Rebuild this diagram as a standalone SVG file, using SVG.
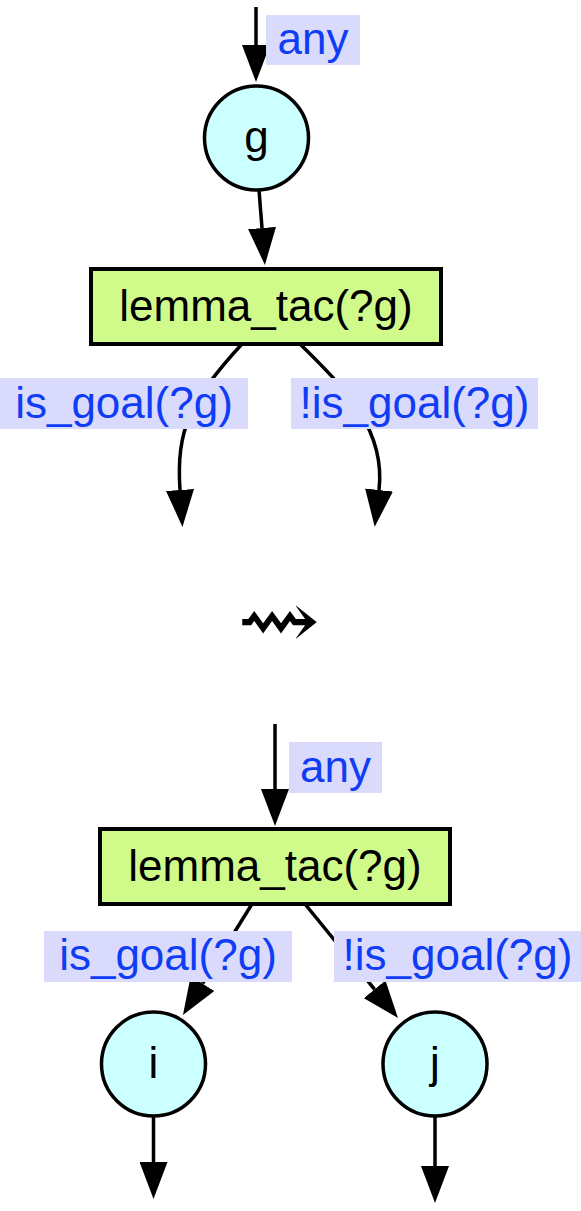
<svg xmlns="http://www.w3.org/2000/svg" width="581" height="1211" viewBox="0 0 581 1211">
<style>
.lbl-bg{fill:#dadafc;stroke:none}
.lbl{font-family:"Liberation Sans",Arial,sans-serif;font-size:44px;fill:#0f3cf5;text-anchor:middle}
.txt{font-family:"Liberation Sans",Arial,sans-serif;font-size:44px;fill:#000;text-anchor:middle}
.circ{fill:#ccffff;stroke:#000;stroke-width:3.5}
.box{fill:#d0fb8a;stroke:#000;stroke-width:4}
.edge{fill:none;stroke:#000;stroke-width:3.5;marker-end:url(#ah)}
</style>
<defs>
<marker id="ah" viewBox="0 0 37 28" refX="0" refY="14" markerWidth="37" markerHeight="28" markerUnits="userSpaceOnUse" orient="auto">
<path d="M0,0 L37,14 L0,28 Z" fill="#000"/>
</marker>
</defs>
<g id="connectors">
<path class="edge" d="M256,7 L256,45"/>
<path class="edge" d="M259,190 L262,228"/>
<path class="edge" d="M242,344 C190,400 176,430 180,490"/>
<path class="edge" d="M300,344 C345,388 386,430 379,490"/>
<path class="edge" d="M275,724 L275,789"/>
<path class="edge" d="M252,904 L202.5,983.6"/>
<path class="edge" d="M305,904 L374.6,989.3"/>
<path class="edge" d="M153.5,1117 L153.5,1162"/>
<path class="edge" d="M435,1117 L435,1166"/>
</g>
<g id="label-any-top">
<rect class="lbl-bg" x="266" y="15" width="94" height="50"/>
<text class="lbl" x="313" y="54">any</text>
</g>
<g id="node-g">
<circle class="circ" cx="256.5" cy="138" r="52"/>
<text class="txt" x="256.5" y="152">g</text>
</g>
<g id="node-lemma1">
<rect class="box" x="91" y="269" width="350" height="75"/>
<text class="txt" x="266" y="320.5">lemma_tac(?g)</text>
</g>
<g id="label-isgoal-1">
<rect class="lbl-bg" x="0" y="378" width="248" height="51"/>
<text class="lbl" x="124" y="417.5">is_goal(?g)</text>
</g>
<g id="label-notisgoal-1">
<rect class="lbl-bg" x="291" y="378" width="247" height="51"/>
<text class="lbl" x="414.5" y="417.5">!is_goal(?g)</text>
</g>
<g id="leadsto">
<text transform="translate(278.5,648) scale(1.25,1)" x="0" y="0" style="font-family:'DejaVu Serif',serif;font-size:80px;fill:#000;text-anchor:middle">⇝</text>
</g>
<g id="label-any-bottom">
<rect class="lbl-bg" x="289" y="742" width="93" height="51"/>
<text class="lbl" x="335.5" y="781.5">any</text>
</g>
<g id="node-lemma2">
<rect class="box" x="100" y="829" width="350" height="75"/>
<text class="txt" x="275" y="880.5">lemma_tac(?g)</text>
</g>
<g id="label-isgoal-2">
<rect class="lbl-bg" x="44" y="931" width="248" height="51"/>
<text class="lbl" x="168" y="970">is_goal(?g)</text>
</g>
<g id="label-notisgoal-2">
<rect class="lbl-bg" x="334" y="931" width="247" height="51"/>
<text class="lbl" x="457.5" y="970">!is_goal(?g)</text>
</g>
<g id="node-i">
<circle class="circ" cx="153.5" cy="1064" r="52"/>
<text class="txt" x="153.5" y="1078">i</text>
</g>
<g id="node-j">
<circle class="circ" cx="435" cy="1064" r="52"/>
<text class="txt" x="435" y="1078">j</text>
</g>
</svg>
